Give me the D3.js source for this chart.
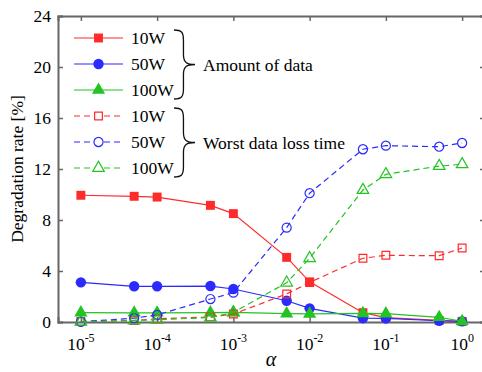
<!DOCTYPE html>
<html>
<head>
<meta charset="utf-8">
<script src="https://cdn.jsdelivr.net/npm/d3@7"></script>
<style>
  body { margin: 0; background: #fff; }
  svg { font-family: 'Liberation Serif', 'Times New Roman', serif; }
</style>
</head>
<body>
<svg id="chart" width="482" height="372"></svg>
<script>
const alphas = [1e-5, 5e-5, 1e-4, 5e-4, 1e-3, 5e-3, 1e-2, 5e-2, 1e-1, 5e-1, 1]

// amount of data
const amount10W = [9.94, 9.86, 9.8, 9.15, 8.5, 5.07, 3.15, 0.73, 0.35, 0.12, 0.05]
const amount50W = [3.11, 2.8, 2.8, 2.82, 2.59, 1.67, 1.07, 0.3, 0.28, 0.1, 0.05]
const amount100W = [0.73, 0.72, 0.72, 0.73, 0.75, 0.66, 0.64, 0.68, 0.65, 0.37, 0.05]

// worst data loss time
const worst10W = [0.05, 0.12, 0.25, 0.4, 0.62, 2.2, 3.1, 5.0, 5.23, 5.2, 5.8]
const worst50W = [0.02, 0.3, 0.55, 1.8, 2.3, 7.4, 10.1, 13.55, 13.83, 13.75, 14.04]
const worst100W = [0.02, 0.12, 0.18, 0.35, 0.75, 3.08, 5.0, 10.35, 11.58, 12.23, 12.37]

const yTicks = [0, 4, 8, 12, 16, 20, 24]
const xTicks = [1e-5, 1e-4, 1e-3, 1e-2, 1e-1, 1]

const RED = '#ff2b2b'
const BLUE = '#2b2bff'
const GREEN = '#22c322'
const AXIS = '#666'

const series = [
  { label: '10W', values: amount10W, color: RED, marker: 'square', filled: true },
  { label: '50W', values: amount50W, color: BLUE, marker: 'circle', filled: true },
  { label: '100W', values: amount100W, color: GREEN, marker: 'triangle', filled: true },
  { label: '10W', values: worst10W, color: RED, marker: 'square', filled: false },
  { label: '50W', values: worst50W, color: BLUE, marker: 'circle', filled: false },
  { label: '100W', values: worst100W, color: GREEN, marker: 'triangle', filled: false }
]

const margin = { left: 58, top: 16, right: 485, bottom: 322 }

const svg = d3.select('#chart')

const x = d3.scaleLog()
  .domain([Math.pow(10, -5.3), Math.pow(10, 0.3)])
  .range([margin.left, margin.right])
const y = d3.scaleLinear()
  .domain([0, 24])
  .range([margin.bottom, margin.top])

svg.append('defs').append('clipPath').attr('id', 'clip')
  .append('rect')
  .attr('x', margin.left)
  .attr('y', margin.top - 6)
  .attr('width', margin.right - margin.left)
  .attr('height', margin.bottom - margin.top + 12)

const markerPath = (type, filled) => {
  if (type === 'square') {
    return filled
      ? d3.symbol(d3.symbolSquare, 80)()
      : d3.symbol(d3.symbolSquare, 60)()
  }
  if (type === 'circle') {
    return filled
      ? d3.symbol(d3.symbolCircle, 85)()
      : d3.symbol(d3.symbolCircle, 65)()
  }
  return filled
    ? d3.symbol(d3.symbolTriangle, 75)()
    : d3.symbol(d3.symbolTriangle, 58)()
}

// axes (ticks inside the box)
const axisG = svg.append('g')
axisG.append('g')
  .attr('transform', `translate(0,${margin.bottom})`)
  .call(d3.axisBottom(x).tickValues(xTicks).tickSize(-5).tickFormat(''))
axisG.append('g')
  .attr('transform', `translate(0,${margin.top})`)
  .call(d3.axisTop(x).tickValues(xTicks).tickSize(-5).tickFormat(''))
axisG.append('g')
  .attr('transform', `translate(${margin.left},0)`)
  .call(d3.axisLeft(y).tickValues(yTicks).tickSize(-5).tickFormat(''))
axisG.append('g')
  .attr('transform', `translate(${margin.right},0)`)
  .call(d3.axisRight(y).tickValues(yTicks).tickSize(-5).tickFormat(''))
axisG.selectAll('.domain').attr('stroke', AXIS).attr('stroke-width', 2)
axisG.selectAll('.tick line').attr('stroke', AXIS).attr('stroke-width', 1.5)

// tick labels
svg.append('g').selectAll('text')
  .data(yTicks)
  .join('text')
  .attr('x', 51)
  .attr('y', (d) => y(d) + 6)
  .attr('text-anchor', 'end')
  .attr('font-size', 17.5)
  .text((d) => d)

const xLab = svg.append('g').selectAll('text')
  .data(xTicks)
  .join('text')
  .attr('x', (d) => x(d))
  .attr('y', 350)
  .attr('text-anchor', 'middle')
  .attr('font-size', 17.5)
xLab.append('tspan').text('10')
xLab.append('tspan')
  .attr('dy', -8)
  .attr('font-size', 12)
  .text((d) => Math.round(Math.log10(d)))

svg.append('text')
  .attr('transform', `translate(23,${(margin.top + margin.bottom) / 2}) rotate(-90)`)
  .attr('text-anchor', 'middle')
  .attr('font-size', 17.5)
  .text('Degradation rate [%]')

svg.append('text')
  .attr('x', 271)
  .attr('y', 366)
  .attr('text-anchor', 'middle')
  .attr('font-size', 20)
  .attr('font-style', 'italic')
  .text('α')

// series
const plot = svg.append('g').attr('clip-path', 'url(#clip)')
const line = d3.line()
  .x((d) => x(d[0]))
  .y((d) => y(d[1]))

series.forEach((s) => {
  const pts = alphas.map((a, i) => [a, s.values[i]])
  const g = plot.append('g')
  g.append('path')
    .datum(pts)
    .attr('d', line)
    .attr('fill', 'none')
    .attr('stroke', s.color)
    .attr('stroke-width', 1.2)
    .attr('stroke-dasharray', s.filled ? null : '6,4')
  g.selectAll('path.m')
    .data(pts)
    .join('path')
    .attr('class', 'm')
    .attr('transform', (d) => `translate(${x(d[0])},${y(d[1])})`)
    .attr('d', markerPath(s.marker, s.filled))
    .attr('fill', s.filled ? s.color : 'none')
    .attr('stroke', s.color)
    .attr('stroke-width', s.filled ? 0 : 1.2)
})

// legend
const rowY = [38, 64, 90, 116, 142, 168]
const legend = svg.append('g')
series.forEach((s, i) => {
  const g = legend.append('g').attr('transform', `translate(0,${rowY[i]})`)
  g.append('line')
    .attr('x1', 74).attr('x2', 123)
    .attr('stroke', s.color)
    .attr('stroke-width', 1.2)
    .attr('stroke-dasharray', s.filled ? null : '6,4')
  g.append('path')
    .attr('transform', 'translate(98.5,0)')
    .attr('d', markerPath(s.marker, s.filled))
    .attr('fill', s.filled ? s.color : '#fff')
    .attr('stroke', s.color)
    .attr('stroke-width', s.filled ? 0 : 1.2)
  g.append('text')
    .attr('x', 131)
    .attr('y', 6)
    .attr('font-size', 17.5)
    .text(s.label)
})

// braces
const bracePath = (x0, y0, y1, w) => {
  const ym = (y0 + y1) / 2
  const xm = x0 + w * 0.45
  const p = d3.path()
  p.moveTo(x0, y0)
  p.bezierCurveTo(x0 + w * 0.35, y0, xm, y0 + 2, xm, y0 + 10)
  p.lineTo(xm, ym - 10)
  p.bezierCurveTo(xm, ym - 2, x0 + w * 0.6, ym, x0 + w, ym)
  p.bezierCurveTo(x0 + w * 0.6, ym, xm, ym + 2, xm, ym + 10)
  p.lineTo(xm, y1 - 10)
  p.bezierCurveTo(xm, y1 - 2, x0 + w * 0.35, y1, x0, y1)
  return p.toString()
}

const braces = [
  { y0: 30, y1: 99, text: 'Amount of data' },
  { y0: 108, y1: 177, text: 'Worst data loss time' }
]
braces.forEach((b) => {
  svg.append('path')
    .attr('d', bracePath(174, b.y0, b.y1, 21))
    .attr('fill', 'none')
    .attr('stroke', '#111')
    .attr('stroke-width', 1.3)
  svg.append('text')
    .attr('x', 203)
    .attr('y', (b.y0 + b.y1) / 2 + 6)
    .attr('font-size', 17.5)
    .text(b.text)
})
</script>
</body>
</html>
